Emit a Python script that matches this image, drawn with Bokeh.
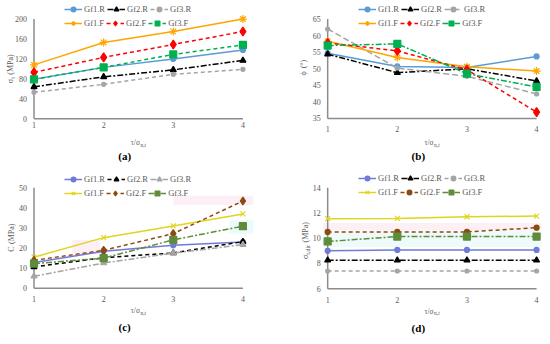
import math
from bokeh.plotting import figure
from bokeh.layouts import gridplot
from bokeh.models import Range1d, Label, Legend, LegendItem, BoxAnnotation
from bokeh.core.properties import value
from bokeh.embed import file_html
from bokeh.resources import INLINE

# ---------------- data ----------------
x_vals = [1, 2, 3, 4]
series_names = ["Gf1.R", "Gf2.R", "Gf3.R", "Gf1.F", "Gf2.F", "Gf3.F"]

a_gf1r = [79, 103, 120, 138]
a_gf2r = [64, 84, 98, 117]
a_gf3r = [53, 69, 89, 99]
a_gf1f = [108, 153, 175, 200]
a_gf2f = [93, 123, 149, 175]
a_gf3f = [79, 103, 129, 148]

b_gf1r = [54.7, 50.7, 50.4, 53.7]
b_gf2r = [54.4, 48.8, 50.0, 46.3]
b_gf3r = [62.0, 50.2, 47.7, 42.4]
b_gf1f = [58.3, 53.4, 50.6, 49.3]
b_gf2f = [57.8, 55.4, 49.7, 36.9]
b_gf3f = [57.0, 57.5, 48.5, 44.5]

c_gf1r = [12.8, 18.4, 21.4, 23.0]
c_gf2r = [10.7, 15.2, 17.6, 23.2]
c_gf3r = [6.0, 12.6, 17.5, 21.7]
c_gf1f = [15.5, 25.2, 31.0, 37.0]
c_gf2f = [13.9, 18.9, 27.2, 43.4]
c_gf3f = [12.3, 15.0, 24.1, 30.9]

d_gf1r = [9.0, 9.07, 9.07, 9.07]
d_gf2r = [8.25, 8.25, 8.25, 8.25]
d_gf3r = [7.4, 7.4, 7.4, 7.4]
d_gf1f = [11.55, 11.57, 11.7, 11.75]
d_gf2f = [10.5, 10.5, 10.5, 10.83]
d_gf3f = [9.74, 10.13, 10.13, 10.13]

a_ticks = [0, 40, 80, 120, 160, 200]
b_ticks = [35, 40, 45, 50, 55, 60, 65]
c_ticks = [0, 10, 20, 30, 40, 50]
d_ticks = [6, 8, 10, 12, 14]
x_tick_labels = ["1", "2", "3", "4"]

# ---------------- styles ----------------
FONT = "Liberation Serif"
GREY_TXT = "#595959"
AXIS_COL = "#8C8C8C"

def st(color, dash, marker, size):
    return dict(color=color, dash=dash, marker=marker, size=size)

style_a = [st("#5B9BD5", "solid", "circle", 5), st("#000000", "6 2 2 2", "triangle", 6),
           st("#A5A5A5", "4 3", "circle", 4), st("#FFA500", "solid", "asterisk", 8),
           st("#FF0000", "4 3", "diamond", 9), st("#00B050", "4 3", "square", 7)]
style_b = [st("#5B9BD5", "solid", "circle", 5), st("#000000", "6 2 2 2", "triangle", 6),
           st("#A5A5A5", "6 3", "circle", 4), st("#FFA500", "solid", "asterisk", 8),
           st("#FF0000", "4 3", "diamond", 9), st("#00B050", "6 2 2 2", "square", 7)]
style_c = [st("#6F7BD6", "solid", "circle", 5), st("#000000", "4 3", "triangle", 6),
           st("#A5A5A5", "6 2 2 2", "triangle", 6), st("#E0D51C", "solid", "x", 7),
           st("#8E4A12", "4 3", "diamond", 8), st("#5E8C3A", "6 2 2 2", "square", 7)]
style_d = [st("#6F7BD6", "solid", "circle", 5), st("#000000", "6 2 2 2", "triangle", 6),
           st("#A5A5A5", "4 3", "circle", 4), st("#E0D51C", "solid", "x", 7),
           st("#8E4A12", "4 3", "circle", 5), st("#5E8C3A", "6 2 2 2", "square", 7)]

W = {'(': .333, ')': .333, 'M': .889, 'P': .556, 'a': .444, ' ': .25, 'C': .667,
     't': .278, ',': .25, 'd': .5, 'i': .278, 'r': .333, 'n': .5, 'σ': .55,
     'τ': .45, '/': .278, 'ϕ': .6, '°': .4}

def tw(s, fs):
    return sum(W.get(ch, 0.5) for ch in s) * fs

FIG_W, FIG_H = 271, 168
SX, SY = 542 / 550.0, 336 / 344.0

def X(o):
    return o * SX

def Y(o):
    return o * SY

def make_panel(ox, oy, x1r, x4r, ylor, yhir, ylo, yhi, ticks, series, styles,
               leg_left, leg_y1, leg_y2, xtick_gap, ylabel_parts, ylab_c, xlab_c, cap, cap_c, boxes):
    x1px, x4px, ylo_px, yhi_px = X(x1r), X(x4r), Y(ylor), Y(yhir)
    kx = (x4px - x1px) / 3.0
    ky = (ylo_px - yhi_px) / float(yhi - ylo)

    def dxp(px):
        return 1 + (px - x1px) / kx
    def dyp(py):
        return ylo + (ylo_px - py) / ky
    def dx(o):
        return dxp(X(o))
    def dy(o):
        return dyp(Y(o))

    p = figure(width=FIG_W, height=FIG_H, output_backend="svg", toolbar_location=None,
               x_range=Range1d(dxp(ox), dxp(ox + FIG_W)),
               y_range=Range1d(dyp(oy + FIG_H), dyp(oy)),
               x_axis_location=None, y_axis_location=None,
               min_border_left=0, min_border_right=0, min_border_top=0, min_border_bottom=0)
    p.outline_line_color = None
    p.xgrid.visible = False
    p.ygrid.visible = False
    p.background_fill_color = "white"
    p.border_fill_color = "white"

    for b in boxes:
        p.add_layout(BoxAnnotation(left=b[0], right=b[1], bottom=b[2], top=b[3],
                                   fill_color=b[4], fill_alpha=1.0, line_alpha=0, level="underlay"))

    # axis lines
    p.segment(x0=[1, 1], y0=[ylo, ylo], x1=[1, 4], y1=[yhi, ylo], line_color=AXIS_COL, line_width=1.5)

    # tick labels
    p.text(x=[1] * len(ticks), y=ticks, text=[str(t) for t in ticks], x_offset=-7,
           text_font=value(FONT), text_font_size="8px", text_color=GREY_TXT,
           text_align="right", text_baseline="middle")
    p.text(x=x_vals, y=[ylo] * len(x_vals), text=x_tick_labels, y_offset=xtick_gap,
           text_font=value(FONT), text_font_size="8px", text_color=GREY_TXT,
           text_align="center", text_baseline="middle")

    items = []
    for name, ys_, s in zip(series_names, series, styles):
        lr = p.line(x_vals, ys_, line_color=s["color"], line_width=1.5, line_dash=s["dash"])
        sr = p.scatter(x_vals, ys_, marker=s["marker"], size=s["size"], fill_color=s["color"],
                       line_color=s["color"], line_width=1.2)
        items.append(LegendItem(label=name, renderers=[lr, sr]))

    def fx(o):
        return X(o) - ox
    def fy(o):
        return oy + FIG_H - Y(o)

    for row, cy in ((items[:3], leg_y1), (items[3:], leg_y2)):
        lg = Legend(items=row, orientation="horizontal",
                    location=(round(fx(leg_left)), round(fy(cy) - 6)),
                    padding=0, margin=0, spacing=2, glyph_width=18, glyph_height=12,
                    label_height=12, label_standoff=2, label_text_font=FONT,
                    label_text_font_size="8.5px", label_text_color=GREY_TXT,
                    border_line_alpha=0, background_fill_alpha=0)
        p.add_layout(lg)

    # x-axis label (horizontal, with subscript)
    xparts = [("τ/σ", 7.5, False), ("n,t", 5.5, True)]
    total = sum(tw(t, f) for t, f, _ in xparts)
    pos = -total / 2
    for t, f, sub in xparts:
        p.add_layout(Label(x=dx(xlab_c[0]), y=dy(xlab_c[1] + 2.5), x_offset=pos,
                           y_offset=(-2 if sub else 0),
                           text=t, text_font=FONT, text_font_size=f"{f}px", text_color=GREY_TXT,
                           text_align="left", text_baseline="alphabetic"))
        pos += tw(t, f)

    # y-axis label (rotated, with subscript); leading spaces become offsets
    total = sum(tw(t, f) for t, f, _ in ylabel_parts)
    pos = -total / 2
    for t, f, sub in ylabel_parts:
        lead = len(t) - len(t.lstrip(" "))
        pos += tw(" " * lead, f) * 1.2
        t2 = t.lstrip(" ")
        p.add_layout(Label(x=dx(ylab_c[0]), y=dy(ylab_c[1]), x_offset=(2 if sub else 0), y_offset=pos,
                           angle=math.pi / 2, text=t2, text_font=FONT, text_font_size=f"{f}px",
                           text_color=GREY_TXT, text_align="left", text_baseline="alphabetic"))
        pos += tw(t2, f)

    p.add_layout(Label(x=dx(cap_c[0]), y=dy(cap_c[1]),
                       text=cap, text_font=FONT, text_font_size="11px", text_font_style="bold",
                       text_color="#000000", text_align="center", text_baseline="middle"))
    return p

pa = make_panel(0, 0, 34, 246, 121, 19, 0, 200, a_ticks,
                [a_gf1r, a_gf2r, a_gf3r, a_gf1f, a_gf2f, a_gf3f], style_a,
                65, 9, 24, 6.5,
                [("σ", 8, False), ("t", 6, True), (" (MPa)", 8, False)], (10.5, 70),
                (140, 143), "(a)", (126, 159), [])

pb = make_panel(271, 0, 332, 544, 120.7, 19, 35, 65, b_ticks,
                [b_gf1r, b_gf2r, b_gf3r, b_gf1f, b_gf2f, b_gf3f], style_b,
                363, 9, 24, 11,
                [("ϕ", 8, False), (" (°)", 8, False)], (307, 69),
                (438, 143), "(b)", (424, 159), [])

pc = make_panel(0, 168, 34, 246, 294.7, 191.7, 0, 50, c_ticks,
                [c_gf1r, c_gf2r, c_gf3r, c_gf1f, c_gf2f, c_gf3f], style_c,
                65, 183.3, 197.3, 11,
                [("C", 8, False), (" (MPa)", 8, False)], (11, 243),
                (140, 315), "(c)", (126, 334.5), [
                    (3.0, 4.15, 41.4, 46.0, "#FCEFF6"),
                    (1.55, 1.95, 17.0, 24.0, "#FCEFF6"),
                    (3.8, 4.15, 27.3, 33.8, "#E9FBFB")])

pd_ = make_panel(271, 168, 332, 544, 295, 191.7, 6, 14, d_ticks,
                 [d_gf1r, d_gf2r, d_gf3r, d_gf1f, d_gf2f, d_gf3f], style_d,
                 363, 182.7, 196.7, 11.5,
                 [("σ", 8, False), ("t,dir", 6, True), (" (MPa)", 8, False)], (310, 246),
                 (438, 315.6), "(d)", (424, 335), [
                     (0.93, 4.07, 10.6, 11.2, "#FDF0F5"),
                     (0.93, 4.07, 9.3, 10.58, "#EEFBFA")])

grid = gridplot([[pa, pb], [pc, pd_]], toolbar_location=None)
open("out.html", "w").write(file_html(grid, INLINE))
